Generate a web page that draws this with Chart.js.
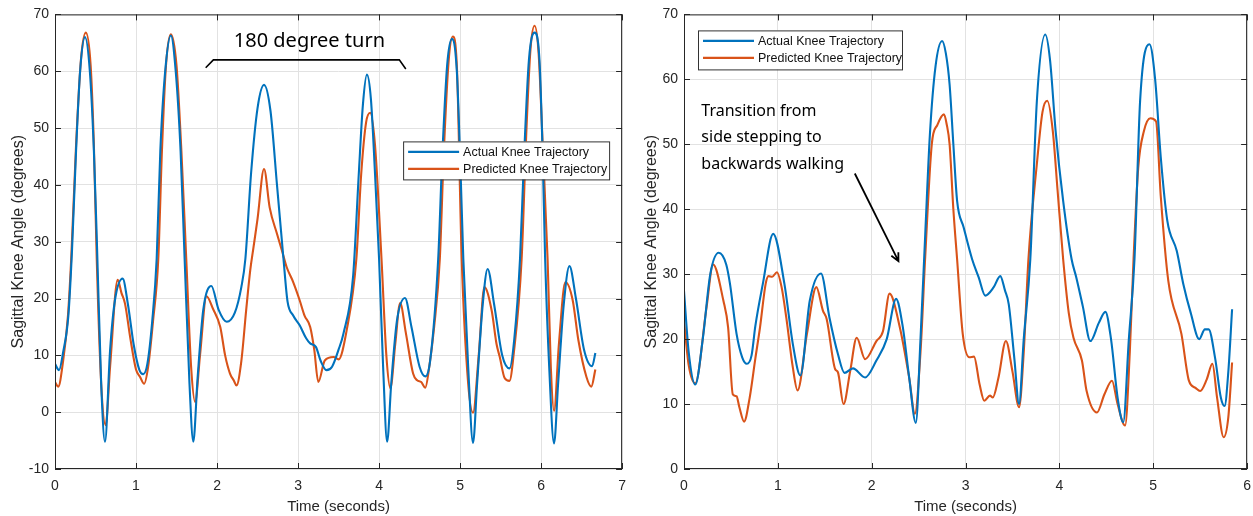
<!DOCTYPE html>
<html>
<head>
<meta charset="utf-8">
<script src="https://cdn.jsdelivr.net/npm/chart.js@4.4.0/dist/chart.umd.min.js"></script>
<style>
  html, body { margin: 0; padding: 0; background: #fff; overflow: hidden; }
  #wrap { position: relative; width: 1253px; height: 516px; overflow: hidden; }
  .panel { position: absolute; top: 0; }
</style>
</head>
<body>
<div id="wrap">
  <canvas id="turnChart" class="panel" width="635" height="516" style="left:0"></canvas>
  <canvas id="transChart" class="panel" width="630" height="516" style="left:630px"></canvas>
</div>
<script>
const seriesNames = ['Actual Knee Trajectory', 'Predicted Knee Trajectory'];

// left panel: 180 degree turn
const turnTimeTicks = [0, 1, 2, 3, 4, 5, 6, 7];
const turnAngleTicks = [-10, 0, 10, 20, 30, 40, 50, 60, 70];

const turnActualT = [0.00, 0.05, 0.10, 0.165, 0.21, 0.26, 0.31, 0.37, 0.43, 0.48, 0.52, 0.57, 0.617, 0.68, 0.74, 0.835, 0.90, 0.97, 1.04, 1.09, 1.14, 1.20, 1.255, 1.30, 1.36, 1.43, 1.49, 1.55, 1.60, 1.66, 1.707, 1.76, 1.83, 1.93, 2.02, 2.12, 2.22, 2.30, 2.35, 2.42, 2.50, 2.58, 2.66, 2.74, 2.82, 2.87, 2.94, 3.02, 3.10, 3.15, 3.22, 3.28, 3.35, 3.42, 3.50, 3.56, 3.68, 3.75, 3.80, 3.85, 3.90, 3.95, 4.00, 4.05, 4.10, 4.15, 4.22, 4.32, 4.40, 4.50, 4.57, 4.63, 4.73, 4.78, 4.84, 4.90, 4.96, 5.00, 5.04, 5.10, 5.16, 5.21, 5.28, 5.34, 5.42, 5.52, 5.61, 5.67, 5.74, 5.79, 5.85, 5.92, 5.98, 6.02, 6.05, 6.10, 6.16, 6.21, 6.28, 6.35, 6.43, 6.53, 6.63, 6.67];
const turnActualV = [8.5, 7.4, 10.5, 17, 28.5, 46, 60, 66, 60, 46, 28.5, 5, -5.2, 10.9, 19.7, 23.5, 19, 12, 7.5, 6.7, 8.5, 16, 27, 46, 60, 66.3, 60, 46, 27, 5, -5.2, 6, 18, 22.2, 18, 15.9, 17.5, 22, 27, 42, 53.5, 57.6, 53, 40, 27, 19.5, 17, 15.3, 13, 12.1, 11.5, 9, 7.4, 8, 11, 13.8, 24, 42, 54, 59.4, 55, 42, 27, 8, -5.2, 5, 16, 20.1, 15, 8, 6.3, 9, 27, 45, 61, 65.7, 60, 45, 27, 8, -5.4, 5, 19, 25.2, 19, 10, 7.7, 13, 27, 45, 62, 66.8, 62, 45, 27, 8, -5.5, 5, 19, 25.7, 20, 11, 8.1, 10.4];

const turnPredT = [0.00, 0.04, 0.10, 0.16, 0.20, 0.26, 0.32, 0.38, 0.44, 0.48, 0.515, 0.57, 0.625, 0.68, 0.774, 0.82, 0.864, 0.93, 1.00, 1.05, 1.10, 1.15, 1.21, 1.275, 1.32, 1.37, 1.43, 1.50, 1.56, 1.62, 1.68, 1.73, 1.79, 1.87, 1.95, 2.04, 2.10, 2.16, 2.21, 2.24, 2.30, 2.36, 2.41, 2.45, 2.50, 2.58, 2.65, 2.74, 2.80, 2.86, 2.94, 3.02, 3.08, 3.15, 3.20, 3.25, 3.33, 3.44, 3.50, 3.60, 3.72, 3.78, 3.84, 3.89, 3.95, 4.03, 4.09, 4.14, 4.20, 4.26, 4.33, 4.42, 4.47, 4.52, 4.57, 4.62, 4.68, 4.75, 4.80, 4.86, 4.91, 4.96, 5.02, 5.10, 5.16, 5.23, 5.30, 5.39, 5.45, 5.49, 5.55, 5.61, 5.66, 5.76, 5.82, 5.87, 5.92, 5.97, 6.02, 6.08, 6.12, 6.16, 6.22, 6.30, 6.39, 6.46, 6.56, 6.62, 6.67];
const turnPredV = [5.3, 4.5, 9, 17, 27, 47, 62, 66.8, 61, 47, 27, 5, -2.3, 8, 23.3, 21, 19.1, 13, 7.5, 6.2, 5.0, 8, 16, 27, 46, 61, 66.5, 61, 46, 27, 8, 1.8, 10, 20.4, 18.2, 15, 10, 6.8, 5.5, 4.7, 9, 18, 25, 29, 34, 42.8, 36, 31.4, 28.5, 25.5, 22.9, 19.7, 17, 15, 11, 5.3, 9.1, 9.7, 9.3, 14.4, 27, 42, 51, 52.7, 47, 27, 10, 4.2, 12, 19.2, 14, 6.8, 5.6, 5.3, 4.3, 8, 15, 27, 46, 62, 66.1, 61, 27, 5, -0.1, 10, 22, 17.9, 12, 9.7, 6, 5.5, 10, 27, 50, 64, 68, 63, 47, 27, 8, 0.2, 12, 22.9, 19.7, 12.7, 6.2, 4.5, 7.5];

// right panel: side stepping -> backwards walking
const transTimeTicks = [0, 1, 2, 3, 4, 5, 6];
const transAngleTicks = [0, 10, 20, 30, 40, 50, 60, 70];

const transActualT = [0.00, 0.05, 0.12, 0.20, 0.28, 0.37, 0.45, 0.49, 0.56, 0.62, 0.67, 0.72, 0.76, 0.84, 0.95, 1.07, 1.16, 1.24, 1.34, 1.46, 1.55, 1.64, 1.71, 1.80, 1.93, 2.05, 2.16, 2.26, 2.33, 2.40, 2.47, 2.52, 2.57, 2.62, 2.68, 2.75, 2.79, 2.83, 2.87, 2.91, 2.98, 3.07, 3.14, 3.21, 3.30, 3.37, 3.42, 3.46, 3.52, 3.57, 3.62, 3.69, 3.76, 3.85, 3.90, 3.96, 4.04, 4.13, 4.18, 4.25, 4.33, 4.42, 4.49, 4.55, 4.62, 4.68, 4.74, 4.80, 4.86, 4.96, 5.02, 5.08, 5.15, 5.25, 5.32, 5.40, 5.49, 5.55, 5.59, 5.66, 5.72, 5.76, 5.80, 5.84];
const transActualV = [27.4, 18, 13.0, 20, 30, 33.3, 31.5, 28.5, 20.8, 17.2, 16.2, 17.5, 22, 28.5, 36.2, 28.5, 19.2, 14.4, 25.9, 30.1, 23.3, 17.7, 14.8, 15.5, 14.1, 16.7, 20, 26.2, 22, 14, 7.1, 20, 36, 51.5, 62, 65.9, 64, 59.2, 50, 41.3, 37.2, 32.3, 29.5, 26.7, 28, 29.7, 27.5, 25.4, 17, 10.0, 20, 32.3, 56.7, 66.9, 63, 52, 41.3, 32.3, 29.5, 25, 19.7, 22.5, 24.2, 20, 11, 7.2, 20, 32.3, 56.7, 65.4, 60, 48, 38.2, 33.6, 28.5, 24, 20, 21.5, 21.5, 17, 11, 9.7, 15, 24.6];

const transPredT = [0.00, 0.05, 0.12, 0.24, 0.31, 0.42, 0.47, 0.52, 0.56, 0.59, 0.64, 0.70, 0.76, 0.81, 0.87, 0.90, 0.94, 0.99, 1.04, 1.09, 1.16, 1.21, 1.31, 1.41, 1.48, 1.52, 1.61, 1.64, 1.70, 1.77, 1.84, 1.93, 2.05, 2.12, 2.19, 2.30, 2.40, 2.46, 2.52, 2.57, 2.64, 2.70, 2.77, 2.80, 2.83, 2.87, 2.91, 2.97, 3.04, 3.09, 3.15, 3.20, 3.26, 3.29, 3.35, 3.43, 3.50, 3.57, 3.62, 3.67, 3.76, 3.82, 3.87, 3.93, 3.98, 4.04, 4.10, 4.15, 4.24, 4.29, 4.40, 4.48, 4.56, 4.62, 4.70, 4.75, 4.79, 4.84, 4.90, 4.97, 5.03, 5.08, 5.16, 5.30, 5.38, 5.45, 5.50, 5.57, 5.63, 5.68, 5.75, 5.80, 5.84];
const transPredV = [22.8, 16, 13.2, 24.9, 31.5, 25.9, 21.8, 11.5, 11.2, 9.5, 7.3, 11, 17, 21.8, 28.5, 29.7, 29.6, 30.3, 28, 23.3, 15.6, 12.1, 20.8, 28.0, 24.4, 23.1, 15.4, 14.9, 10.0, 15, 20.2, 16.9, 19.7, 21.2, 27.0, 21.8, 14, 8.5, 18, 32.6, 50, 53, 54.6, 53, 50, 40, 32.3, 20.8, 17.2, 17.3, 13, 10.5, 11.3, 11.0, 14, 19.7, 15, 9.5, 18, 32.3, 47, 55, 56.7, 52, 43, 32.3, 24, 20.2, 16.7, 12.0, 8.7, 11.5, 13.6, 10, 6.7, 18, 32.3, 46.4, 52, 54, 53.5, 42, 29, 20.8, 13.6, 12.5, 12.0, 13.8, 16.2, 11, 4.9, 8, 16.4];

const lineColors = ['#0072BD', '#D95319'];
const axisColor = '#262626';
const labelFont = '"Liberation Sans", Arial, sans-serif';
const noteFont = '"Noto Sans", "Open Sans", sans-serif';

const toPoints = (ts, vs) => ts.map((t, i) => ({ x: t, y: vs[i] }));

// per-canvas extras (kept out of chart options so Chart.js doesn't treat the functions as scriptable)
const extras = {};

// MATLAB-like box with inward ticks on all four sides, plus legend and notes
const frame = {
  id: 'frame',
  afterDatasetsDraw(chart) {
    const { ctx, chartArea: a, scales: { x, y } } = chart;
    const ex = extras[chart.canvas.id];
    ctx.save();
    ctx.strokeStyle = axisColor;
    ctx.lineWidth = 1;
    ctx.strokeRect(a.left + 0.5, a.top + 0.5, a.width - 1, a.height - 1);
    ctx.beginPath();
    x.ticks.forEach(t => {
      const px = Math.round(x.getPixelForValue(t.value)) + 0.5;
      ctx.moveTo(px, a.bottom); ctx.lineTo(px, a.bottom - 6);
      ctx.moveTo(px, a.top); ctx.lineTo(px, a.top + 6);
    });
    y.ticks.forEach(t => {
      const py = Math.round(y.getPixelForValue(t.value)) + 0.5;
      ctx.moveTo(a.left, py); ctx.lineTo(a.left + 6, py);
      ctx.moveTo(a.right, py); ctx.lineTo(a.right - 6, py);
    });
    ctx.stroke();

    // legend
    const lg = ex.legend;
    const bx = lg.fromRight ? a.right - lg.dx - lg.w : a.left + lg.dx;
    const by = a.top + lg.dy;
    ctx.fillStyle = '#fff';
    ctx.fillRect(bx, by, lg.w, lg.h);
    ctx.strokeStyle = '#333';
    ctx.strokeRect(bx + 0.5, by + 0.5, lg.w, lg.h);
    ctx.font = '12.5px ' + labelFont;
    ctx.textBaseline = 'middle';
    ctx.textAlign = 'left';
    chart.data.datasets.forEach((ds, i) => {
      const ry = by + 10.5 + i * 17;
      ctx.strokeStyle = ds.borderColor;
      ctx.lineWidth = 2.2;
      ctx.beginPath();
      ctx.moveTo(bx + 5, ry); ctx.lineTo(bx + 56, ry);
      ctx.stroke();
      ctx.fillStyle = '#111';
      ctx.fillText(ds.label, bx + 60, ry + 0.5);
    });

    ex.note(ctx, x, y);
    ctx.restore();
  }
};

function turnNote(ctx, x, y) {
  ctx.strokeStyle = '#000';
  ctx.lineWidth = 1.6;
  ctx.beginPath();
  ctx.moveTo(x.getPixelForValue(1.86), y.getPixelForValue(60.6));
  ctx.lineTo(x.getPixelForValue(1.955), y.getPixelForValue(62.0));
  ctx.lineTo(x.getPixelForValue(4.25), y.getPixelForValue(62.0));
  ctx.lineTo(x.getPixelForValue(4.33), y.getPixelForValue(60.4));
  ctx.stroke();
  ctx.fillStyle = '#000';
  ctx.font = '20px ' + noteFont;
  ctx.textAlign = 'center';
  ctx.textBaseline = 'alphabetic';
  ctx.fillText('180 degree turn', x.getPixelForValue(3.14), y.getPixelForValue(64.2));
}

function transNote(ctx, x, y) {
  ctx.fillStyle = '#000';
  ctx.font = '16px ' + noteFont;
  ctx.textAlign = 'left';
  ctx.textBaseline = 'alphabetic';
  const lines = ['Transition from', 'side stepping to', 'backwards walking'];
  lines.forEach((s, i) => ctx.fillText(s, x.getPixelForValue(0.185), y.getPixelForValue(54.4 - i * 4.1)));
  const x0 = x.getPixelForValue(1.82), y0 = y.getPixelForValue(45.5);
  const x1 = x.getPixelForValue(2.285), y1 = y.getPixelForValue(32.0);
  const ang = Math.atan2(y1 - y0, x1 - x0);
  ctx.strokeStyle = '#000';
  ctx.lineWidth = 1.8;
  ctx.beginPath();
  ctx.moveTo(x0, y0); ctx.lineTo(x1, y1);
  ctx.moveTo(x1 - 9 * Math.cos(ang - 0.45), y1 - 9 * Math.sin(ang - 0.45));
  ctx.lineTo(x1, y1);
  ctx.lineTo(x1 - 9 * Math.cos(ang + 0.45), y1 - 9 * Math.sin(ang + 0.45));
  ctx.stroke();
}

function makeChart(id, p) {
  extras[id] = { legend: p.legend, note: p.note };
  return new Chart(document.getElementById(id), {
    type: 'line',
    data: {
      datasets: [
        { label: seriesNames[0], data: toPoints(p.actualT, p.actualV), borderColor: lineColors[0] },
        { label: seriesNames[1], data: toPoints(p.predT, p.predV), borderColor: lineColors[1] }
      ].map(d => Object.assign(d, { borderWidth: 2.1, pointRadius: 0, cubicInterpolationMode: 'monotone', fill: false }))
    },
    options: {
      responsive: false,
      animation: false,
      devicePixelRatio: 1,
      layout: { padding: { top: p.top, right: p.right, left: 0, bottom: 0 } },
      plugins: {
        legend: { display: false },
        tooltip: { enabled: false }
      },
      scales: {
        x: {
          type: 'linear',
          min: p.xTicks[0],
          max: p.xTicks[p.xTicks.length - 1],
          afterBuildTicks: s => { s.ticks = p.xTicks.map(v => ({ value: v })); },
          afterFit: s => { s.height = 47; },
          grid: { color: '#e2e2e2', drawTicks: false },
          border: { display: false },
          ticks: { color: axisColor, padding: 9, maxRotation: 0, font: { size: 14, family: labelFont } },
          title: { display: true, text: 'Time (seconds)', color: axisColor, padding: { top: 0, bottom: 0 }, font: { size: 15, family: labelFont } }
        },
        y: {
          min: p.yTicks[0],
          max: p.yTicks[p.yTicks.length - 1],
          afterBuildTicks: s => { s.ticks = p.yTicks.map(v => ({ value: v })); },
          afterFit: s => { s.width = p.yWidth; },
          grid: { color: '#e2e2e2', drawTicks: false },
          border: { display: false },
          ticks: { color: axisColor, padding: 6, font: { size: 14, family: labelFont } },
          title: { display: true, text: 'Sagittal Knee Angle (degrees)', color: axisColor, padding: { top: p.titlePad, bottom: 0 }, font: { size: 16, family: labelFont } }
        }
      }
    },
    plugins: [frame]
  });
}

makeChart('turnChart', {
  actualT: turnActualT, actualV: turnActualV, predT: turnPredT, predV: turnPredV,
  xTicks: turnTimeTicks, yTicks: turnAngleTicks,
  top: 14, right: 8, yWidth: 55, titlePad: 9,
  legend: { fromRight: true, dx: 13, dy: 127, w: 206, h: 38 },
  note: turnNote
});

makeChart('transChart', {
  actualT: transActualT, actualV: transActualV, predT: transPredT, predV: transPredV,
  xTicks: transTimeTicks, yTicks: transAngleTicks,
  top: 13, right: 6, yWidth: 54, titlePad: 12,
  legend: { fromRight: false, dx: 14, dy: 16, w: 204, h: 39 },
  note: transNote
});
</script>
</body>
</html>
